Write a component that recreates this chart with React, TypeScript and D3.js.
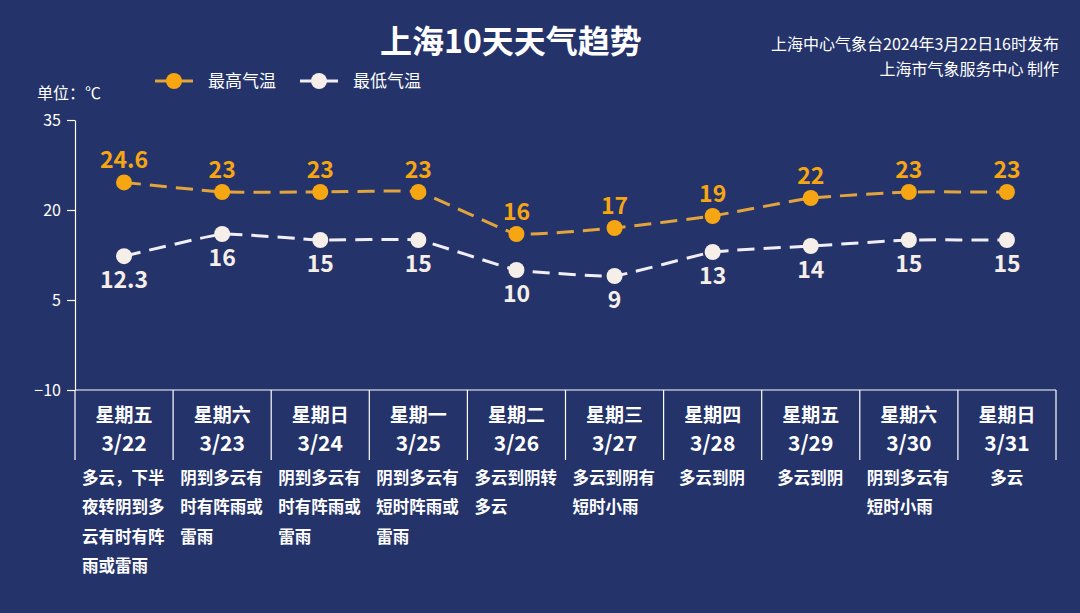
import React, { useRef, useEffect } from 'react';
import * as d3 from 'd3';

const weekdays = ['星期五', '星期六', '星期日', '星期一', '星期二', '星期三', '星期四', '星期五', '星期六', '星期日'];
const dates = ['3/22', '3/23', '3/24', '3/25', '3/26', '3/27', '3/28', '3/29', '3/30', '3/31'];
const highTemps = [24.6, 23, 23, 23, 16, 17, 19, 22, 23, 23];
const lowTemps = [12.3, 16, 15, 15, 10, 9, 13, 14, 15, 15];
const descriptions = [
  ['多云，下半', '夜转阴到多', '云有时有阵', '雨或雷雨'],
  ['阴到多云有', '时有阵雨或', '雷雨'],
  ['阴到多云有', '时有阵雨或', '雷雨'],
  ['阴到多云有', '短时阵雨或', '雷雨'],
  ['多云到阴转', '多云'],
  ['多云到阴有', '短时小雨'],
  ['多云到阴'],
  ['多云到阴'],
  ['阴到多云有', '短时小雨'],
  ['多云'],
];
const yTicks = [35, 20, 5, -10];

const W = 1080;
const H = 613;
const BG = '#24336a';
const ORANGE = '#f6a612';
const ORANGE_LINE = '#e2a43c';
const WHITE = '#f6eee8';
const FONT = '"Noto Sans CJK SC", "Noto Sans", sans-serif';

const App: React.FC = () => {
  const svgRef = useRef<SVGSVGElement | null>(null);

  useEffect(() => {
    const svg = d3.select(svgRef.current);
    svg.selectAll('*').remove();

    svg.append('rect').attr('width', W).attr('height', H).attr('fill', BG);

    const left = 75;
    const right = 1056;
    const top = 120;
    const bottom = 390;

    const x = d3.scaleBand<string>().domain(dates).range([left, right]);
    const y = d3.scaleLinear().domain([-10, 35]).range([bottom, top]);
    const cx = (i: number) => (x(dates[i]) as number) + x.bandwidth() / 2;

    // title & header
    svg.append('text')
      .attr('x', 511).attr('y', 53)
      .attr('text-anchor', 'middle')
      .attr('font-family', FONT).attr('font-weight', 700).attr('font-size', 32)
      .attr('fill', '#ffffff')
      .text('上海10天天气趋势');

    const info = ['上海中心气象台2024年3月22日16时发布', '上海市气象服务中心 制作'];
    info.forEach((t, i) => {
      svg.append('text')
        .attr('x', 1059).attr('y', 50 + i * 25)
        .attr('text-anchor', 'end')
        .attr('font-family', FONT).attr('font-size', 16)
        .attr('fill', '#ffffff')
        .text(t);
    });

    // legend
    const legend = [
      { label: '最高气温', line: ORANGE_LINE, dot: ORANGE, x: 155 },
      { label: '最低气温', line: '#f2eef8', dot: WHITE, x: 300 },
    ];
    legend.forEach(l => {
      svg.append('line')
        .attr('x1', l.x).attr('x2', l.x + 38).attr('y1', 81).attr('y2', 81)
        .attr('stroke', l.line).attr('stroke-width', 3);
      svg.append('circle').attr('cx', l.x + 19).attr('cy', 81).attr('r', 8).attr('fill', l.dot);
      svg.append('text')
        .attr('x', l.x + 53).attr('y', 87)
        .attr('font-family', FONT).attr('font-size', 17)
        .attr('fill', '#ffffff')
        .text(l.label);
    });

    svg.append('text')
      .attr('x', 37).attr('y', 99)
      .attr('font-family', FONT).attr('font-size', 16)
      .attr('fill', '#ffffff')
      .text('单位：℃');

    // y axis
    const yAxis = svg.append('g')
      .attr('transform', `translate(${left},0)`)
      .call(d3.axisLeft(y).tickValues(yTicks).tickSize(8).tickPadding(6).tickSizeOuter(0));
    yAxis.select('.domain').attr('stroke', '#ffffff').attr('stroke-width', 1.2);
    yAxis.selectAll('.tick line').attr('stroke', '#ffffff').attr('stroke-width', 1.2);
    yAxis.selectAll('.tick text')
      .attr('fill', '#ffffff')
      .attr('font-family', FONT)
      .attr('font-size', 16);

    // x axis line + band separators
    svg.append('line')
      .attr('x1', left).attr('x2', right).attr('y1', bottom).attr('y2', bottom)
      .attr('stroke', '#ffffff').attr('stroke-width', 1.2);
    const seps = dates.map(d => x(d) as number).concat([right]);
    svg.append('g').selectAll('line').data(seps).join('line')
      .attr('x1', d => d).attr('x2', d => d)
      .attr('y1', bottom).attr('y2', 460)
      .attr('stroke', '#ffffff').attr('stroke-width', 1.2);

    // table text
    const table = svg.append('g').attr('font-family', FONT).attr('fill', '#ffffff').attr('font-weight', 700);
    dates.forEach((d, i) => {
      table.append('text')
        .attr('x', cx(i)).attr('y', 422)
        .attr('text-anchor', 'middle').attr('font-size', 19)
        .text(weekdays[i]);
      table.append('text')
        .attr('x', cx(i)).attr('y', 451)
        .attr('text-anchor', 'middle').attr('font-size', 21)
        .text(d);
      const lines = descriptions[i];
      const maxLen = d3.max(lines, l => l.length) || 0;
      const charW = 16.8;
      const x0 = cx(i) - (maxLen * charW) / 2;
      lines.forEach((l, j) => {
        table.append('text')
          .attr('x', x0).attr('y', 484 + j * 29.3)
          .attr('font-size', 16.5)
          .text(l);
      });
    });

    // lines
    const line = d3.line<number>()
      .x((_, i) => cx(i))
      .y(v => y(v))
      .curve(d3.curveCardinal.tension(0.7));

    const series = [
      { data: highTemps, stroke: ORANGE_LINE, dot: ORANGE, above: true },
      { data: lowTemps, stroke: '#f2eef8', dot: WHITE, above: false },
    ];
    series.forEach(s => {
      svg.append('path')
        .attr('d', line(s.data) as string)
        .attr('fill', 'none')
        .attr('stroke', s.stroke)
        .attr('stroke-width', 3)
        .attr('stroke-dasharray', '17 9');
      svg.append('g').selectAll('circle').data(s.data).join('circle')
        .attr('cx', (_, i) => cx(i))
        .attr('cy', v => y(v))
        .attr('r', 8)
        .attr('fill', s.dot);
      svg.append('g').selectAll('text').data(s.data).join('text')
        .attr('x', (_, i) => cx(i))
        .attr('y', v => (s.above ? y(v) - 14 : y(v) + 32))
        .attr('text-anchor', 'middle')
        .attr('font-family', FONT)
        .attr('font-weight', 700)
        .attr('font-size', 23)
        .attr('fill', s.above ? ORANGE : WHITE)
        .text(v => String(v));
    });
  }, []);

  return (
    <svg
      ref={svgRef}
      width={W}
      height={H}
      style={{ position: 'absolute', left: 0, top: 0, display: 'block' }}
    />
  );
};

export default App;
